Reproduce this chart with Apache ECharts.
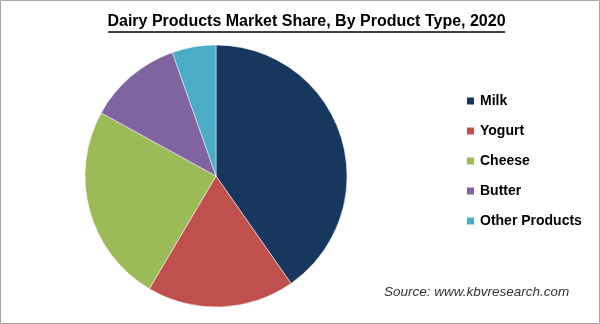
<!DOCTYPE html>
<html><head><meta charset="utf-8">
<script src="https://cdn.jsdelivr.net/npm/echarts@6/dist/echarts.min.js"></script>
<style>html,body{margin:0;padding:0;background:#fff}#c{width:600px;height:324px}</style>
</head><body><div id="c"></div>
<script>
const categories = ["Milk", "Yogurt", "Cheese", "Butter", "Other Products"];
const shares = [40.3, 18.2, 24.5, 11.6, 5.4];
const colors = ["#17375E", "#C0504D", "#9BBB59", "#8064A2", "#4BACC6"];
const titleText = "Dairy Products Market Share, By Product Type, 2020";
const sourceText = "Source: www.kbvresearch.com";

const chart = echarts.init(document.getElementById('c'), null, {renderer: 'canvas'});
chart.setOption({
  animation: false,
  backgroundColor: '#fff',
  color: colors,
  title: {
    text: titleText,
    left: 306.5, top: 14, textAlign: 'center', padding: 0,
    textStyle: {fontFamily: 'Liberation Sans', fontWeight: 'bold', fontSize: 16, color: '#000'}
  },
  legend: {
    orient: 'vertical', left: 465, top: 93, padding: 0,
    icon: 'rect', itemWidth: 9, itemHeight: 9, itemGap: 14,
    textStyle: {fontFamily: 'Liberation Sans', fontWeight: 'bold', fontSize: 14, color: '#000', lineHeight: 16},
    data: categories
  },
  graphic: [
    {type: 'rect', shape: {x: 0.5, y: 0.5, width: 599, height: 323}, style: {fill: 'none', stroke: '#a6a6a6', lineWidth: 1}, silent: true},
    {type: 'line', shape: {x1: 108, y1: 32, x2: 505, y2: 32}, style: {stroke: '#000', lineWidth: 1.3}, silent: true},
    {type: 'text', left: 384, top: 285, style: {text: sourceText, font: 'italic 13.5px "Liberation Sans"', fill: '#333'}, silent: true}
  ],
  series: [{
    type: 'pie',
    center: [216, 176], radius: 131,
    startAngle: 90, clockwise: true,
    label: {show: false}, labelLine: {show: false},
    itemStyle: {borderColor: '#fff', borderWidth: 0.5},
    emphasis: {disabled: true},
    data: categories.map((n, i) => ({name: n, value: shares[i]}))
  }]
});
</script></body></html>
